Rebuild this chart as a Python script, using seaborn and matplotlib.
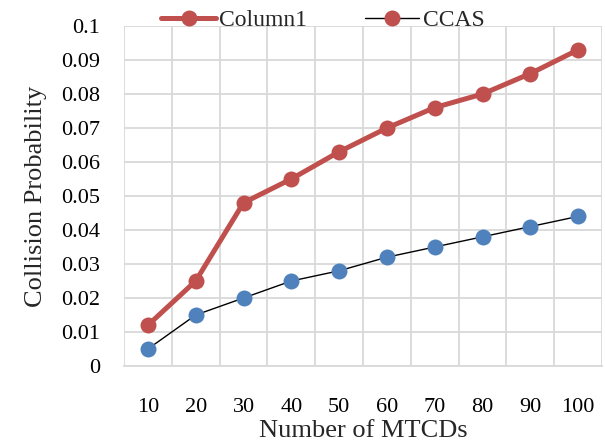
import matplotlib
matplotlib.use("Agg")
import matplotlib.pyplot as plt
import seaborn as sns
import pandas as pd
import numpy as np
from matplotlib.lines import Line2D

categories = ["10", "20", "30", "40", "50", "60", "70", "80", "90", "100"]
column1 = [0.012, 0.025, 0.048, 0.055, 0.063, 0.070, 0.076, 0.080, 0.086, 0.093]
ccas = [0.005, 0.015, 0.020, 0.025, 0.028, 0.032, 0.035, 0.038, 0.041, 0.044]
yticks = [0, 0.01, 0.02, 0.03, 0.04, 0.05, 0.06, 0.07, 0.08, 0.09, 0.1]
ytick_labels = ["0", "0.01", "0.02", "0.03", "0.04", "0.05", "0.06", "0.07", "0.08", "0.09", "0.1"]

sns.set_theme(style="white")
plt.rcParams['font.family'] = ['Liberation Serif', 'DejaVu Serif']

RED = "#C0504D"
BLUE = "#4F81BD"
GRID = "#D9D9D9"

fig = plt.figure(figsize=(6.05, 4.45), dpi=100)
ax = fig.add_axes([124/605, 1 - 366/445, (602-124)/605, (366-26)/445])

df = pd.DataFrame({"x": np.arange(len(categories)), "Column1": column1, "CCAS": ccas})

sns.lineplot(data=df, x="x", y="Column1", ax=ax, color=RED, linewidth=3.6,
             marker="o", markersize=11.5, markeredgewidth=0, zorder=3)
sns.lineplot(data=df, x="x", y="CCAS", ax=ax, color="black", linewidth=1.0,
             marker="o", markersize=11.5, markerfacecolor=BLUE, markeredgewidth=0, zorder=4)

ax.set_xlim(-0.5, len(categories) - 0.5)
ax.set_ylim(0, 0.1)
ax.set_xticks(np.arange(len(categories)))
ax.set_xticklabels(categories)
ax.set_xticks(np.arange(len(categories) + 1) - 0.5, minor=True)
ax.set_yticks(yticks)
ax.set_yticklabels(ytick_labels)

ax.grid(False)
ax.yaxis.grid(True, which="major", color=GRID, linewidth=1.3)
ax.xaxis.grid(True, which="minor", color=GRID, linewidth=1.3)
ax.set_axisbelow(True)

for s in ["top", "right", "left"]:
    ax.spines[s].set_visible(False)
ax.spines["bottom"].set_color(GRID)
ax.spines["bottom"].set_linewidth(1.3)

ax.tick_params(axis="both", which="both", length=0, labelsize=16, colors="black")
ax.tick_params(axis="x", which="major", pad=23)
ax.tick_params(axis="y", which="major", pad=17)

ax.set_xlabel("Number of MTCDs", fontsize=19, labelpad=2)
ax.set_ylabel("Collision Probability", fontsize=19, labelpad=10)

handles = [
    Line2D([0], [0], color=RED, linewidth=3.6, marker="o", markersize=11.5, markeredgewidth=0),
    Line2D([0], [0], color="black", linewidth=1.0, marker="o", markersize=11.5,
           markerfacecolor=RED, markeredgewidth=0),
]
fig.legend(handles, ["Column1", "CCAS"], loc="center", bbox_to_anchor=(323/605, 1 - 20/445),
           ncol=2, frameon=False, fontsize=17, handlelength=2.3, columnspacing=2.45,
           handletextpad=0.15, borderpad=0)

fig.savefig("out.png", dpi=100)
